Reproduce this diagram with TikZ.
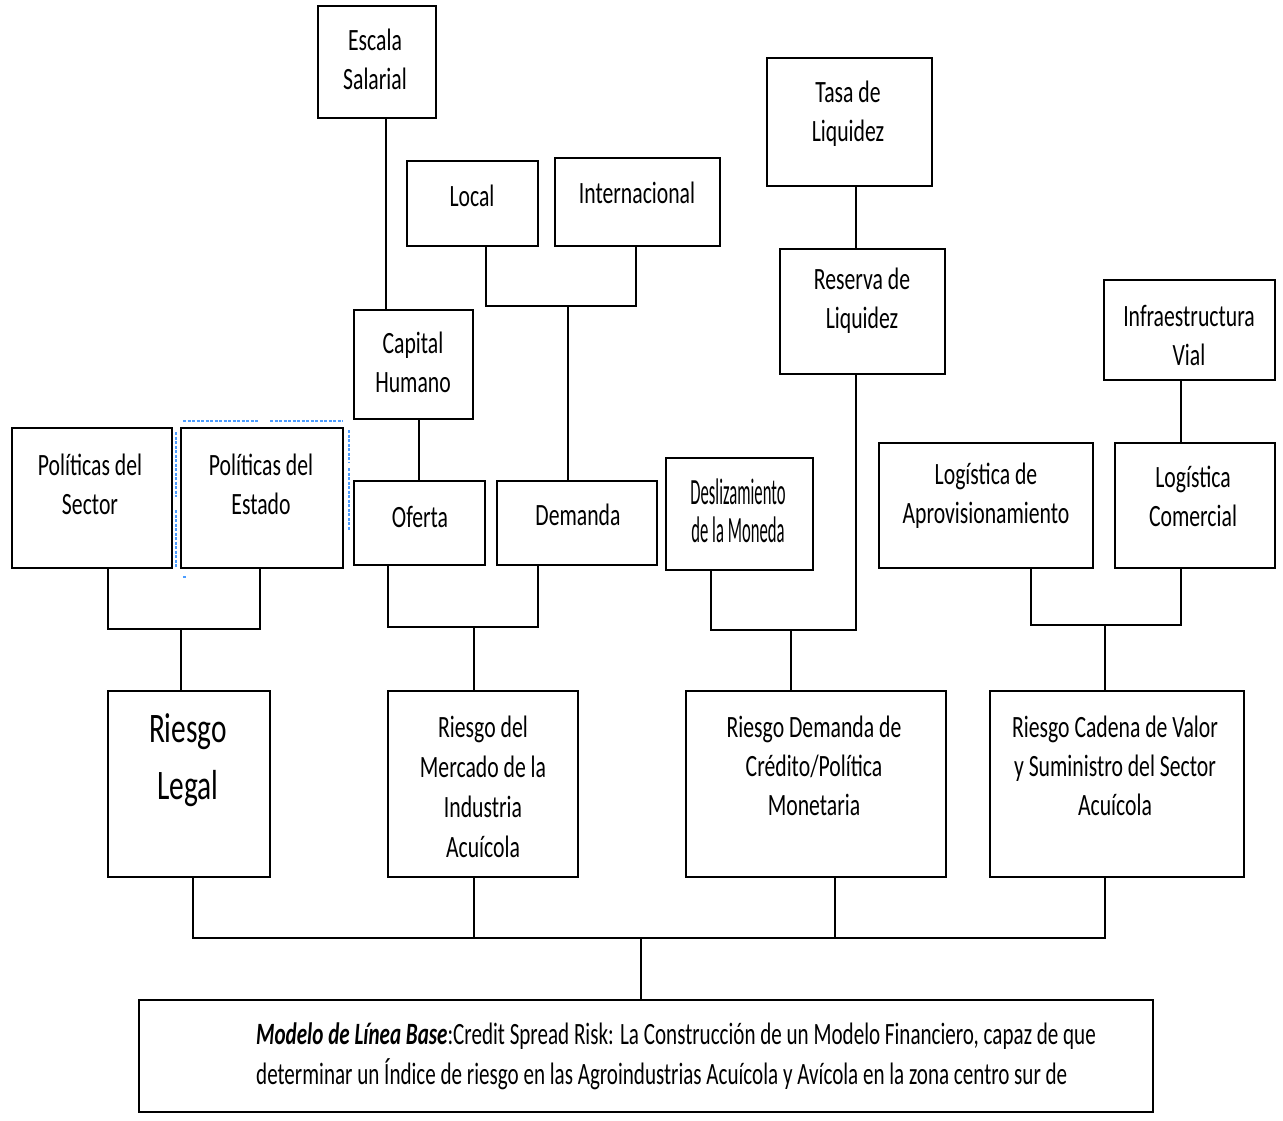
\documentclass[tikz,border=0pt]{standalone}
\usepackage{fontspec}
\setmainfont[FakeStretch=0.7]{Carlito}
\begin{document}
\begin{tikzpicture}[x=1pt,y=-1pt,
  box/.style={draw, line width=1.8pt, inner sep=0pt},
  lbl/.style={align=center, inner sep=0pt, font=\fontsize{31}{39}\selectfont},
  conn/.style={line width=1.8pt},
  dot/.style={draw=blue!55!cyan!70!white, line width=1.1pt, dash pattern=on 3pt off 1.5pt}]
\useasboundingbox[fill=white] (0,0) rectangle (1283,1121);
% boxes
\node[box, minimum width=118, minimum height=112] (es) at (377,62) {};
\node[box, minimum width=131, minimum height=85] (loc) at (472.5,203.5) {};
\node[box, minimum width=165, minimum height=88] (int) at (637.5,202) {};
\node[box, minimum width=165, minimum height=128] (tasa) at (849.5,122) {};
\node[box, minimum width=165, minimum height=125] (res) at (862.5,311.5) {};
\node[box, minimum width=171, minimum height=100] (inf) at (1189.5,330) {};
\node[box, minimum width=119, minimum height=109] (cap) at (413.5,364.5) {};
\node[box, minimum width=160, minimum height=140] (ps) at (92,498) {};
\node[box, minimum width=162, minimum height=140] (pe) at (262,498) {};
\node[box, minimum width=131, minimum height=84] (of) at (419.5,523) {};
\node[box, minimum width=160, minimum height=84] (dem) at (577,523) {};
\node[box, minimum width=147, minimum height=112] (des) at (739.5,514) {};
\node[box, minimum width=214, minimum height=125] (la) at (986,505.5) {};
\node[box, minimum width=160, minimum height=125] (lc) at (1195,505.5) {};
\node[box, minimum width=162, minimum height=186] (rl) at (189,784) {};
\node[box, minimum width=190, minimum height=186] (rm) at (483,784) {};
\node[box, minimum width=260, minimum height=186] (rc) at (816,784) {};
\node[box, minimum width=254, minimum height=186] (rv) at (1117,784) {};
\node[box, minimum width=1014, minimum height=112] (mb) at (646,1056) {};
% labels
\node[lbl] (tes) at (375,59) {Escala\\Salarial};
\node[lbl] (tloc) at (472,196) {Local};
\node[lbl] (tint) at (637,193) {Internacional};
\node[lbl] (ttasa) at (848,114) {Tasa de\\Liquidez};
\node[lbl] (tres) at (862,301) {Reserva de\\Liquidez};
\node[lbl] (tinf) at (1189,335) {Infraestructura\\Vial};
\node[lbl] (tcap) at (413,362) {Capital\\Humano};
\node[lbl] (tps) at (90,484) {Políticas del\\Sector};
\node[lbl] (tpe) at (261,484) {Políticas del\\Estado};
\node[lbl] (tof) at (420,517) {Oferta};
\node[lbl] (tdem) at (578,515) {Demanda};
\node[lbl, font=\fontsize{37}{38}\addfontfeature{FakeStretch=0.45}\selectfont] (tdes) at (738,511) {Deslizamiento\\de la Moneda};
\node[lbl] (tla) at (986,496) {Logística de\\Aprovisionamiento};
\node[lbl] (tlc) at (1193,496) {Logística\\Comercial};
\node[lbl, font=\fontsize{42}{57}\selectfont] (trl) at (188,760) {Riesgo\\Legal};
\node[lbl, font=\fontsize{31}{40}\selectfont] (trm) at (483,787) {Riesgo del\\Mercado de la\\Industria\\Acuícola};
\node[lbl] (trc) at (814,766) {Riesgo Demanda de\\Crédito/Política\\Monetaria};
\node[lbl] (trv) at (1115,766) {Riesgo Cadena de Valor\\y Suministro del Sector\\Acuícola};
\node[lbl, align=left, anchor=west, font=\fontsize{31}{40}\addfontfeature{FakeStretch=0.68}\selectfont] (tmb) at (256,1056) {\textbf{\textit{Modelo de Línea Base}}:Credit Spread Risk: La Construcción de un Modelo Financiero, capaz de que\\determinar un Índice de riesgo en las Agroindustrias Acuícola y Avícola en la zona centro sur de};
% dotted selection marks
\draw[dot] (183,421) -- (258,421) (270,421) -- (343,421);
\draw[dot] (349,430) -- (349,462) (349,468) -- (349,530);
\draw[dot] (176,432) -- (176,497) (176,510) -- (176,567);
\draw[dot] (183,577) -- (187,577);
% junction coordinates
\coordinate (xEs) at (386,200);
\coordinate (xCap) at (419,450);
\coordinate (xTasa) at (856,220);
\coordinate (xInf) at (1181,410);
\coordinate (jA1) at (486,306); \coordinate (jA2) at (636,306); \coordinate (jA) at (568,306);
\coordinate (jB1) at (711,630); \coordinate (jB2) at (856,630); \coordinate (jB) at (791,630);
\coordinate (jC1) at (1031,625); \coordinate (jC2) at (1181,625); \coordinate (jC) at (1105,625);
\coordinate (jD1) at (108,629); \coordinate (jD2) at (260,629); \coordinate (jD) at (181,629);
\coordinate (jE1) at (388,627); \coordinate (jE2) at (538,627); \coordinate (jE) at (474,627);
\coordinate (jF1) at (193,938); \coordinate (jF2) at (474,938); \coordinate (jF3) at (835,938); \coordinate (jF4) at (1105,938); \coordinate (jF) at (641,938);
% connectors
\draw[conn] (es.south -| xEs) -- (cap.north -| xEs);
\draw[conn] (cap.south -| xCap) -- (of.north -| xCap);
\draw[conn] (tasa.south -| xTasa) -- (res.north -| xTasa);
\draw[conn] (inf.south -| xInf) -- (lc.north -| xInf);
\draw[conn] (loc.south -| jA1) -- (jA1) -- (jA2) -- (int.south -| jA2);
\draw[conn] (jA) -- (dem.north -| jA);
\draw[conn] (des.south -| jB1) -- (jB1) -- (jB2) -- (res.south -| jB2);
\draw[conn] (jB) -- (rc.north -| jB);
\draw[conn] (la.south -| jC1) -- (jC1) -- (jC2) -- (lc.south -| jC2);
\draw[conn] (jC) -- (rv.north -| jC);
\draw[conn] (ps.south -| jD1) -- (jD1) -- (jD2) -- (pe.south -| jD2);
\draw[conn] (jD) -- (rl.north -| jD);
\draw[conn] (of.south -| jE1) -- (jE1) -- (jE2) -- (dem.south -| jE2);
\draw[conn] (jE) -- (rm.north -| jE);
\draw[conn] (rl.south -| jF1) -- (jF1) -- (jF4) -- (rv.south -| jF4);
\draw[conn] (rm.south -| jF2) -- (jF2);
\draw[conn] (rc.south -| jF3) -- (jF3);
\draw[conn] (jF) -- (mb.north -| jF);
\end{tikzpicture}
\end{document}
